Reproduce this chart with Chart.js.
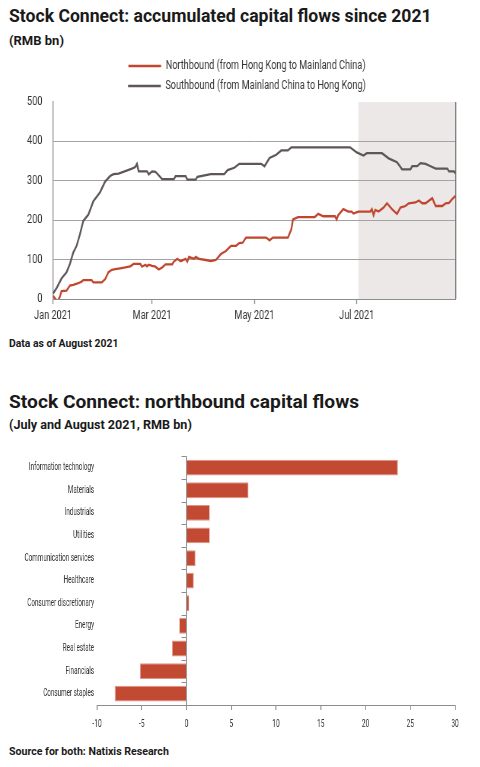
<!DOCTYPE html>
<html>
<head>
<meta charset="utf-8">
<script src="https://cdn.jsdelivr.net/npm/chart.js@4/dist/chart.umd.min.js"></script>
<style>
  body { margin: 0; width: 480px; height: 767px; background: #fff; position: relative; overflow: hidden; font-family: Roboto, "DejaVu Sans", sans-serif; color: #1a1a1a; }
  .t { position: absolute; left: 9px; font-weight: 700; white-space: nowrap; }
  /* the chart text in the original is a tall condensed face: the canvases are drawn wide and squeezed */
  .squeeze { position: absolute; left: 0; transform-origin: 0 0; }
  #lineBox { top: 50px; height: 280px; }
  #barBox { top: 445px; height: 290px; }
</style>
</head>
<body>
<div class="t" style="top:6px; font-size:17.6px">Stock Connect: accumulated capital flows since 2021</div>
<div class="t" style="top:33px; font-size:13px">(RMB bn)</div>
<div id="lineBox" class="squeeze"><canvas id="lineChart"></canvas></div>
<div class="t" style="top:337px; font-size:10.4px">Data as of August 2021</div>

<div class="t" style="top:390px; font-size:19.2px">Stock Connect: northbound capital flows</div>
<div class="t" style="top:417px; font-size:12.6px">(July and August 2021, RMB bn)</div>
<div id="barBox" class="squeeze"><canvas id="barChart"></canvas></div>
<div class="t" style="top:745px; font-size:10.6px">Source for both: Natixis Research</div>

<script>
// days counted from 1 Jan 2021
const monthTickDays = [0, 59, 120, 181];
const monthTickLabels = ['Jan 2021', 'Mar 2021', 'May 2021', 'Jul 2021'];
const lastDay = 240;
const shadeFrom = 182; // July-August highlight

const northDays = [0,1,2,3,4,5,8,10,12,15,17,18,23,24,29,31,33,35,37,40,43,46,48,52,53,55,56,57,59,61,63,65,67,71,72,74,76,79,80,81,84,85,87,91,94,97,100,103,106,109,111,113,115,127,129,131,140,142,143,146,156,158,161,168,169,170,173,176,178,179,182,189,190,191,192,194,197,199,202,205,207,210,212,216,218,220,222,226,228,232,234,236,238,240];
const northValues = [8,2,-3,-3,5,20,21,34,36,40,44,48,48,42,42,50,68,74,76,78,80,83,89,89,82,87,83,87,84,82,75,80,88,88,95,102,96,102,95,107,102,107,102,99,96,99,114,122,135,135,142,143,156,156,149,156,156,177,202,208,208,216,210,210,202,213,228,222,222,217,222,222,228,213,226,222,232,243,228,216,232,236,243,245,250,243,243,256,236,236,243,244,254,262];

const southDays = [0,2,5,8,10,12,14,16,18,21,24,28,31,34,36,39,47,49,50,51,56,57,59,61,65,72,73,79,80,85,86,94,102,104,108,111,124,126,129,133,136,140,142,177,181,185,187,196,200,205,208,213,214,217,219,222,225,228,235,236,239,240];
const southValues = [14,27,52,68,89,118,135,164,198,214,248,271,298,312,317,318,331,335,343,324,324,316,324,323,304,304,312,312,303,303,310,317,317,327,333,343,343,337,358,366,377,377,385,385,372,364,370,370,357,347,329,329,337,337,345,343,337,331,331,324,324,318];

const sectors = ['Information technology', 'Materials', 'Industrials', 'Utilities', 'Communication services', 'Healthcare', 'Consumer discretionary', 'Energy', 'Real estate', 'Financials', 'Consumer staples'];
const sectorFlows = [23.6, 6.9, 2.6, 2.6, 1.0, 0.8, 0.3, -0.8, -1.6, -5.2, -8.0];

const font = 'Roboto, "DejaVu Sans", sans-serif';
const axisGrey = '#8c8c8c';
const pageW = 480;
const lineSx = 0.76;
const barSx = 0.6;

// size a box wider than the page, then squeeze it back horizontally
const squeeze = (id, sx) => {
    const box = document.getElementById(id);
    box.style.width = (pageW / sx) + 'px';
    box.style.transform = 'scaleX(' + sx + ')';
};
squeeze('lineBox', lineSx);
squeeze('barBox', barSx);

const toPoints = (days, values) => days.map((d, i) => ({ x: d, y: values[i] }));

const periodShade = {
    id: 'periodShade',
    afterLayout(chart) {
        // legend sits a little right of centre in the original
        const shift = 25;
        chart.legend.left += shift;
        chart.legend.right += shift;
    },
    beforeDraw(chart) {
        const { ctx, chartArea, scales } = chart;
        const x0 = scales.x.getPixelForValue(shadeFrom);
        ctx.save();
        ctx.fillStyle = '#ece8e8';
        ctx.fillRect(x0, chartArea.top, chartArea.right - x0, chartArea.bottom - chartArea.top);
        ctx.restore();
    },
    afterDraw(chart) {
        const { ctx, chartArea } = chart;
        ctx.save();
        ctx.strokeStyle = '#6e6e6e';
        ctx.lineWidth = 1.3;
        ctx.beginPath();
        ctx.moveTo(chartArea.right, chartArea.top);
        ctx.lineTo(chartArea.right, chartArea.bottom);
        ctx.stroke();
        ctx.restore();
    }
};

new Chart(document.getElementById('lineChart'), {
    type: 'line',
    data: {
        datasets: [{
            label: 'Northbound (from Hong Kong to Mainland China)',
            data: toPoints(northDays, northValues),
            borderColor: '#c0462d',
            backgroundColor: '#c0462d',
            borderWidth: 2.3,
            pointRadius: 0,
            tension: 0
        }, {
            label: 'Southbound (from Mainland China to Hong Kong)',
            data: toPoints(southDays, southValues),
            borderColor: '#5e5657',
            backgroundColor: '#5e5657',
            borderWidth: 2.3,
            pointRadius: 0,
            tension: 0
        }]
    },
    options: {
        responsive: true,
        maintainAspectRatio: false,
        animation: false,
        layout: { padding: { left: 0, right: (pageW - 455) / lineSx, top: 2, bottom: 0 } },
        plugins: {
            tooltip: { enabled: false },
            legend: {
                labels: {
                    usePointStyle: true,
                    pointStyle: 'line',
                    pointStyleWidth: 43,
                    padding: 8,
                    color: '#333',
                    font: { family: font, size: 12 }
                }
            }
        },
        scales: {
            x: {
                type: 'linear',
                min: 0,
                max: lastDay,
                afterBuildTicks: scale => { scale.ticks = monthTickDays.map(v => ({ value: v })); },
                afterFit: scale => { scale.height = 31; },
                ticks: {
                    autoSkip: false,
                    maxRotation: 0,
                    padding: 5,
                    color: '#333',
                    font: { family: font, size: 12 },
                    callback: v => monthTickLabels[monthTickDays.indexOf(v)]
                },
                grid: { drawOnChartArea: false, tickLength: 5, tickColor: axisGrey, tickWidth: 1.3 },
                border: { color: axisGrey }
            },
            y: {
                min: 0,
                max: 500,
                afterFit: scale => { scale.width = 53 / lineSx; },
                ticks: { stepSize: 100, padding: 14, color: '#333', font: { family: font, size: 12 } },
                grid: {
                    color: c => c.tick.value === 500 ? 'rgba(0,0,0,0)' : '#a3a3a3',
                    lineWidth: 1,
                    drawTicks: false
                },
                border: { color: axisGrey, width: 1.3 }
            }
        }
    },
    plugins: [periodShade]
});

const zeroTicks = {
    id: 'zeroTicks',
    afterDraw(chart) {
        const { ctx, scales } = chart;
        const x0 = scales.x.getPixelForValue(0);
        const y = scales.y;
        const step = y.getPixelForValue(1) - y.getPixelForValue(0);
        ctx.save();
        ctx.strokeStyle = axisGrey;
        ctx.lineWidth = 1;
        ctx.beginPath();
        for (let i = 0; i < sectors.length; i++) {
            const yy = Math.round(y.getPixelForValue(i) - step / 2) + 0.5;
            ctx.moveTo(x0 - 5 / barSx, yy);
            ctx.lineTo(x0, yy);
        }
        ctx.stroke();
        ctx.restore();
    }
};

new Chart(document.getElementById('barChart'), {
    type: 'bar',
    data: {
        labels: sectors,
        datasets: [{
            data: sectorFlows,
            backgroundColor: '#c34a32',
            borderColor: '#dd9483',
            borderWidth: 1,
            barPercentage: 0.7,
            categoryPercentage: 1
        }]
    },
    options: {
        indexAxis: 'y',
        responsive: true,
        maintainAspectRatio: false,
        animation: false,
        layout: { padding: { left: 0, right: (pageW - 455) / barSx, top: 7, bottom: 0 } },
        plugins: { legend: { display: false }, tooltip: { enabled: false } },
        scales: {
            x: {
                min: -10,
                max: 30,
                afterFit: scale => { scale.height = 30; },
                ticks: { stepSize: 5, padding: 8, color: '#333', font: { family: font, size: 11 } },
                grid: {
                    color: c => c.tick.value === 0 ? axisGrey : 'rgba(0,0,0,0)',
                    lineWidth: 1.6,
                    tickColor: axisGrey,
                    tickWidth: 1.6,
                    tickLength: 5
                },
                border: { color: axisGrey }
            },
            y: {
                afterFit: scale => { scale.width = 97 / barSx; },
                ticks: { padding: 5, color: '#333', font: { family: font, size: 10.5 } },
                grid: { display: false, drawTicks: false },
                border: { display: false }
            }
        }
    },
    plugins: [zeroTicks]
});
</script>
</body>
</html>
